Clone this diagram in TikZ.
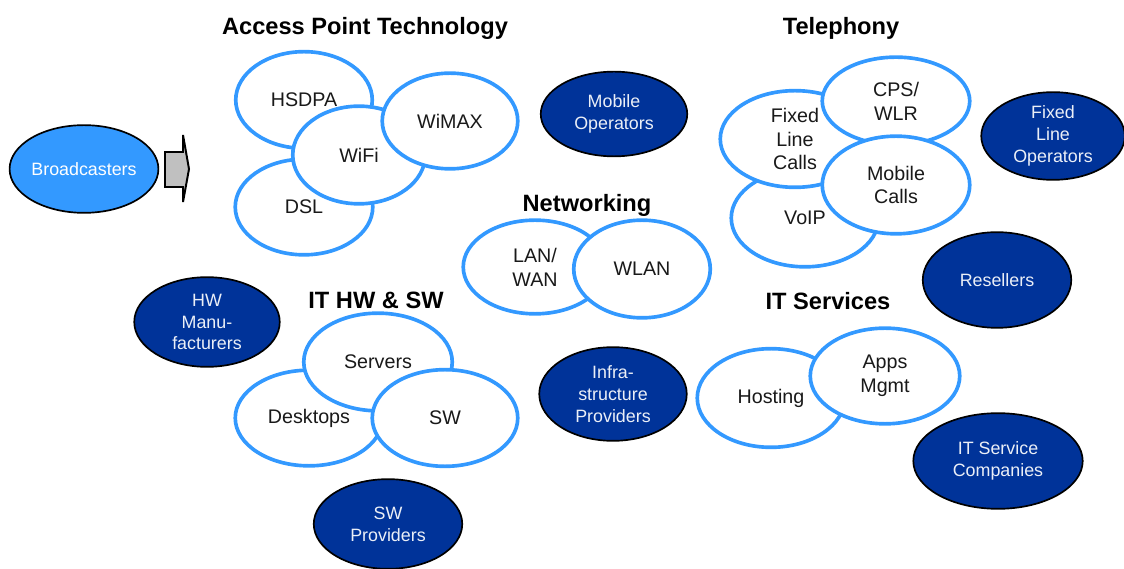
\documentclass[tikz,border=0pt]{standalone}
\usepackage{fontspec}
\setmainfont{Liberation Sans}
\usetikzlibrary{shapes.geometric}
\definecolor{ringblue}{HTML}{3399FF}
\definecolor{darkblue}{HTML}{003399}
\definecolor{castblue}{HTML}{3399FF}
\definecolor{arrowgray}{HTML}{C0C0C0}
\tikzset{
  wh/.style 2 args={minimum width=#1*0.7087pt, minimum height=#2*0.7087pt},
  tech/.style={ellipse, draw=ringblue, line width=2.6pt, fill=white, inner sep=0pt,
    align=center, text=black!90, font=\fontsize{14}{17}\selectfont},
  player/.style={ellipse, draw=black, line width=1.2pt, fill=darkblue, inner sep=0pt,
    align=center, text=white!92!darkblue, font=\fontsize{12.7}{15.6}\selectfont},
  heading/.style={font=\bfseries\fontsize{16.8}{20}\selectfont}
}
\begin{document}
\begin{tikzpicture}[x=0.025cm, y=-0.025cm]
    \useasboundingbox (0,0) rectangle (1124,569);

    % broadcasters and block arrow
    \node [player, fill=castblue, text=white, wh={148}{88}] (cast) at (84,169) {Broadcasters};
    \draw [fill=arrowgray, line width=1.4pt] (165,152) -- (183,152) -- (183,135) -- (189,169)
        -- (183,202) -- (183,187) -- (165,187) -- cycle;

    % access point technology
    \node [heading] (apt) at (365,28) {Access Point Technology};
    \node [tech, wh={137}{97}] (hsdpa) at (304,100) {HSDPA};
    \node [tech, wh={138}{96}] (dsl) at (304,207) {DSL};
    \node [tech, wh={133}{98}] (wifi) at (359,155) {WiFi};
    \node [tech, wh={136}{96}] (wimax) at (450,121) {WiMAX};

    % telephony
    \node [heading] (tel) at (841,28) {Telephony};
    \node [tech, wh={148}{98}] (voip) at (805,218) {VoIP};
    \node [tech, wh={150}{97}] (fixed) at (795,139) {Fixed\\Line\\Calls};
    \node [tech, wh={148}{88}] (cps) at (896,101) {CPS/\\WLR};
    \node [tech, wh={148}{98}] (mobile) at (896,185) {Mobile\\Calls};

    % networking
    \node [heading] (net) at (587,205) {Networking};
    \node [tech, wh={144}{94}] (lan) at (535,267) {LAN/\\WAN};
    \node [tech, wh={137}{98}] (wlan) at (642,269) {WLAN};

    % it hw & sw
    \node [heading] (hwsw) at (376,300) {IT HW \& SW};
    \node [tech, wh={148}{96}] (desk) at (309,418) {Desktops};
    \node [tech, wh={149}{98}] (serv) at (378,362) {Servers};
    \node [tech, wh={146}{97}] (sw) at (445,418) {SW};

    % it services
    \node [heading] (its) at (828,301) {IT Services};
    \node [tech, wh={148}{99}] (host) at (771,398) {Hosting};
    \node [tech, wh={150}{96}] (apps) at (885,376) {Apps\\Mgmt};

    % players
    \node [player, wh={147}{85}] (mobop) at (614,114) {Mobile\\Operators};
    \node [player, wh={144}{88}] (fixop) at (1053,136) {Fixed\\Line\\Operators};
    \node [player, wh={146}{90}] (hwman) at (207,322) {HW\\Manu-\\facturers};
    \node [player, wh={148}{94}] (infra) at (613,394) {Infra-\\structure\\Providers};
    \node [player, wh={149}{96}] (resell) at (997,280) {Resellers};
    \node [player, wh={170}{96}] (itsc) at (998,461) {IT Service\\Companies};
    \node [player, wh={149}{90}] (swprov) at (388,524) {SW\\Providers};
  \end{tikzpicture}
\end{document}
